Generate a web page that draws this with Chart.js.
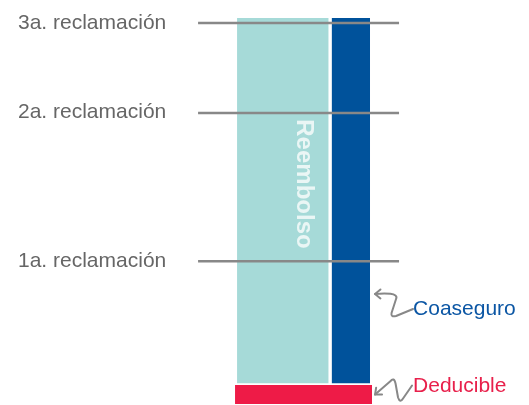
<!DOCTYPE html>
<html><head><meta charset="utf-8">
<script src="https://cdn.jsdelivr.net/npm/chart.js@4.4.1/dist/chart.umd.min.js"></script>
<style>html,body{margin:0;padding:0;background:#fff;}#wrap{width:529px;height:405px;position:relative;}</style>
</head><body><div id="wrap"><canvas id="c"></canvas></div>
<script>
// ---- data (values in % of the total bar height / width) ----
const claimLabels = ['1a. reclamación', '2a. reclamación', '3a. reclamación'];
const claimLevels = [37.0, 75.4, 98.7];
const deductibleTop = 4.9;
const coverageBottom = 5.4;
const coverageTop = 100;
const shareNames = ['Reembolso', 'Coaseguro'];
const shareValues = [70, 30];
const calloutLabels = ['Coaseguro', 'Deducible'];

// ---- styles ----
const TEAL = '#A6DAD8', BLUE = '#00529B', RED = '#EE1B47', GRAY = '#888888';
const GAP = 1.1;           // half gap between the two share bars (x units)
const lineExtent = [-29.3, 121.8];
const redExtent = [-1.5, 101.5];

const rect = (x0, x1, yTop, yBottom, color, label) => ({
  label, data: [{x: x0, y: yTop}, {x: x1, y: yTop}],
  borderWidth: 0, borderColor: color, backgroundColor: color,
  pointRadius: 0, fill: {value: yBottom}, order: 2, tension: 0
});

const datasets = [
  rect(0, shareValues[0] - GAP, coverageTop, coverageBottom, TEAL, shareNames[0]),
  rect(shareValues[0] + GAP, shareValues[0] + shareValues[1], coverageTop, coverageBottom, BLUE, shareNames[1]),
  rect(redExtent[0], redExtent[1], deductibleTop, 0, RED, calloutLabels[1])
];
claimLevels.forEach((lvl, i) => datasets.push({
  label: claimLabels[i],
  data: [{x: lineExtent[0], y: lvl}, {x: lineExtent[1], y: lvl}],
  borderColor: GRAY, borderWidth: 2.5, pointRadius: 0, fill: false, order: 1, clip: false
}));

const annot = {
  id: 'annot',
  afterDatasetsDraw(chart) {
    const ctx = chart.ctx, xs = chart.scales.x, ys = chart.scales.y;
    ctx.save();
    // left claim labels
    ctx.font = '21px "Liberation Sans", Arial, sans-serif';
    ctx.fillStyle = '#666666';
    ctx.textAlign = 'left'; ctx.textBaseline = 'alphabetic';
    claimLevels.forEach((lvl, i) => {
      ctx.fillText(claimLabels[i], 18, ys.getPixelForValue(lvl) + 5.5);
    });
    // Reembolso vertical label
    ctx.save();
    ctx.translate(xs.getPixelForValue(50.4), ys.getPixelForValue(57));
    ctx.rotate(Math.PI / 2);
    ctx.font = 'bold 24px "Liberation Sans", Arial, sans-serif';
    ctx.fillStyle = '#EAF6F5';
    ctx.textAlign = 'center'; ctx.textBaseline = 'middle';
    ctx.fillText(shareNames[0], 0, 0);
    ctx.restore();

    // callouts
    const drawArrow = (tx, ty, pts, barbs) => {
      ctx.strokeStyle = GRAY; ctx.lineWidth = 2; ctx.lineCap = 'round'; ctx.lineJoin = 'round';
      ctx.beginPath();
      pts(tx, ty);
      ctx.stroke();
      ctx.beginPath();
      barbs.forEach(b => { ctx.moveTo(tx, ty); ctx.lineTo(tx + b[0], ty + b[1]); });
      ctx.stroke();
    };
    const rightEdge = xs.getPixelForValue(shareValues[0] + shareValues[1]);
    // Coaseguro
    const cx = rightEdge + 5, cy = ys.getPixelForValue(28.5);
    drawArrow(cx, cy, (x, y) => {
      ctx.moveTo(x, y);
      ctx.bezierCurveTo(x + 10, y - 1, x + 24, y - 1, x + 21, y + 5);
      ctx.lineTo(x + 16.5, y + 19);
      ctx.quadraticCurveTo(x + 15.5, y + 23.5, x + 21, y + 22);
      ctx.lineTo(x + 38, y + 15);
    }, [[5.4, -4.5], [5.4, 4.5]]);
    ctx.font = '21px "Liberation Sans", Arial, sans-serif';
    ctx.textAlign = 'left'; ctx.textBaseline = 'alphabetic';
    ctx.fillStyle = '#0B56A4';
    ctx.fillText(calloutLabels[0], cx + 38, cy + 21);
    // Deducible
    const dx = xs.getPixelForValue(redExtent[1]) + 3, dy = ys.getPixelForValue(deductibleTop / 2);
    drawArrow(dx, dy, (x, y) => {
      ctx.moveTo(x, y);
      ctx.lineTo(x + 15, y - 13);
      ctx.quadraticCurveTo(x + 19, y - 18, x + 20.5, y - 11);
      ctx.lineTo(x + 23, y + 3);
      ctx.quadraticCurveTo(x + 25, y + 9, x + 28, y + 4);
      ctx.lineTo(x + 37, y - 9);
    }, [[1.1, -6.9], [7, -0.1]]);
    ctx.fillStyle = '#E8204B';
    ctx.fillText(calloutLabels[1], dx + 38, dy - 2.5);
    ctx.restore();
  }
};

new Chart(document.getElementById('c'), {
  type: 'line',
  data: {datasets},
  options: {
    responsive: true, maintainAspectRatio: false, animation: false,
    layout: {padding: 0},
    plugins: {legend: {display: false}, tooltip: {enabled: false}},
    scales: {
      x: {type: 'linear', display: false, min: -178.2, max: 219.5},
      y: {type: 'linear', display: false, min: -0.26, max: 104.66}
    }
  },
  plugins: [annot]
});
</script></body></html>
